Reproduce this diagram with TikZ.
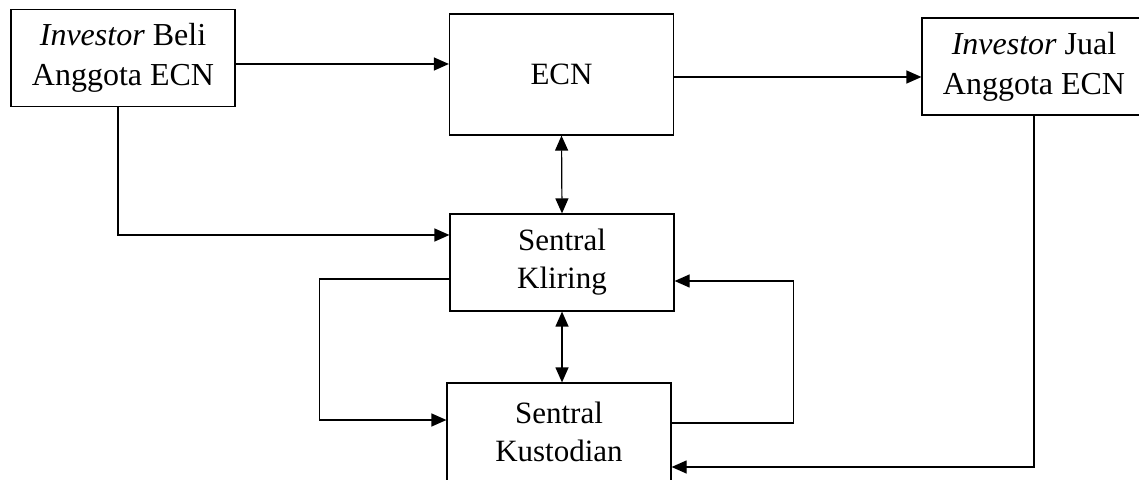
\documentclass[tikz,border=0pt]{standalone}
\usepackage{fontspec}
\setmainfont{Liberation Serif}
\usetikzlibrary{arrows.meta, positioning, calc}
\tikzset{
  box/.style      = {draw, line width=0.6pt, align=center, inner sep=0pt,
                     minimum width=112pt, minimum height=48.5pt,
                     font=\fontsize{15.5}{19}\selectfont},
  sidebox/.style  = {box, font=\fontsize{16}{20}\selectfont},
  arrow/.style    = {-{Triangle[length=7.5pt, width=6.5pt]}, line width=0.6pt},
  dblarrow/.style = {{Triangle[length=7.5pt, width=6.5pt]}-{Triangle[length=7.5pt, width=6.5pt]},
                     line width=0.6pt},
}

\begin{document}
\begin{tikzpicture}[x=0.5pt, y=-0.5pt]
  \clip (0,0) rectangle (1139,480);

  % boxes
  \node[sidebox] (beli) at (123,58) {\textit{Investor} Beli\\Anggota ECN};
  \node[box, minimum height=60.5pt] (ecn) at (561.5,74.5) {ECN};
  \node[sidebox] (jual) at (1034,66.5) {\textit{Investor} Jual\\Anggota ECN};
  \node[box] (kliring) at (562,262.5) {Sentral\\Kliring};
  \node[box, minimum height=49pt] (kustodian) at (559,432) {Sentral\\Kustodian};

  % attachment points on the box sides
  \coordinate (b1) at ($(beli.east)+(0,6)$);
  \coordinate (b2) at ($(beli.south)+(-5,0)$);
  \coordinate (e1) at ($(ecn.east)+(0,2.5)$);
  \coordinate (k1) at ($(kliring.west)+(0,-27.5)$);
  \coordinate (k2) at ($(kliring.west)+(0,16.5)$);
  \coordinate (k3) at ($(kliring.east)+(0,18.5)$);
  \coordinate (s1) at ($(kustodian.west)+(0,-12)$);
  \coordinate (s2) at ($(kustodian.east)+(0,-9)$);
  \coordinate (s3) at ($(kustodian.east)+(0,35)$);

  % order flow
  \draw[arrow] (b1) -- (b1 -| ecn.west);
  \draw[arrow] (e1) -- (e1 -| jual.west);
  \draw[dblarrow] (ecn.south) -- (kliring.north);
  \draw[arrow] (b2) |- (k1);

  % clearing and custody
  \draw[arrow] (k2) -- ++(-130,0) |- (s1);
  \draw[arrow] (s2) -- ++(122,0) |- (k3);
  \draw[dblarrow] (kliring.south) -- (kliring.south |- kustodian.north);
  \draw[arrow] (jual.south) |- (s3);
\end{tikzpicture}
\end{document}
